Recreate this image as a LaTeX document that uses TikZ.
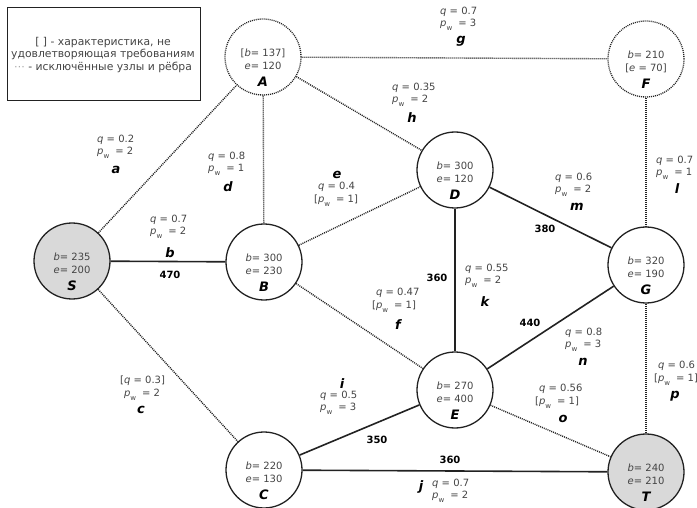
\documentclass[tikz,border=0pt]{standalone}
\usepackage{fontspec}
\setmainfont{DejaVu Sans}
\usetikzlibrary{calc}
\definecolor{txt}{HTML}{444444}
\definecolor{vfill}{HTML}{D9D9D9}
\definecolor{edgec}{HTML}{222222}
\newcommand{\pwx}{\textit{p}\raisebox{-4pt}{\fontsize{7}{7}\selectfont w}\hspace{6pt}}
\newcommand{\mkvert}[6]{%
  \node[#6] (#1) at (#2) {};
  \node[vtxt] (#1t1) at ($(#1)+(0,-4)$) {#3};
  \node[vtxt] (#1t2) at ($(#1)+(0,9)$) {#4};
  \node[vlet] (#1t3) at ($(#1)+(0,25)$) {#5};
}
\tikzset{
  vert/.style={circle, draw=edgec, line width=1.3pt, minimum size=76pt, inner sep=0pt},
  vdot/.style={vert, line width=1.3pt, dash pattern=on 1pt off 1pt},
  vgray/.style={vert, fill=vfill},
  vtxt/.style={font=\fontsize{10}{12}\selectfont, text=txt, inner sep=0pt},
  vlet/.style={font=\fontsize{13}{13}\selectfont\bfseries\itshape, inner sep=0pt},
  lab/.style={font=\fontsize{10}{12.5}\selectfont, text=txt, align=left, anchor=west, inner sep=0pt},
  elab/.style={font=\fontsize{13}{13}\selectfont\bfseries\itshape, inner sep=0pt},
  wt/.style={font=\fontsize{10}{10}\selectfont\bfseries, inner sep=0pt},
  sol/.style={draw=edgec, line width=1.6pt},
  dot/.style={draw=edgec, line width=1.4pt, dash pattern=on 1pt off 1pt},
}
\begin{document}
\begin{tikzpicture}[x=1pt,y=-1pt]
\useasboundingbox (0,0) rectangle (697,508);
% legend
\node[draw=edgec, line width=1.2pt, minimum width=193pt, minimum height=93pt, anchor=north west, inner sep=0pt] (legend) at (7,7) {};
\node[font=\fontsize{10.8}{12.5}\selectfont, text=txt, align=center, inner sep=0pt] (legtxt) at (103,55)
  {[ ] - характеристика, не\\удовлетворяющая требованиям\\{\color{gray!70}⋯} - исключённые узлы и рёбра};
% vertices
\mkvert{A}{263,57}{[\textit{b}= 137]}{\textit{e}= 120}{A}{vdot}
\mkvert{F}{646,59}{\textit{b}= 210}{[\textit{e} = 70]}{F}{vdot}
\mkvert{D}{455,170}{\textit{b}= 300}{\textit{e}= 120}{D}{vert}
\mkvert{S}{72,261}{\textit{b}= 235}{\textit{e}= 200}{S}{vgray}
\mkvert{B}{264,262}{\textit{b}= 300}{\textit{e}= 230}{B}{vert}
\mkvert{G}{646,265}{\textit{b}= 320}{\textit{e}= 190}{G}{vert}
\mkvert{E}{455,390}{\textit{b}= 270}{\textit{e}= 400}{E}{vert}
\mkvert{C}{264,470}{\textit{b}= 220}{\textit{e}= 130}{C}{vert}
\mkvert{T}{646,472}{\textit{b}= 240}{\textit{e}= 210}{T}{vgray}
% edges
\draw[dot] (S) -- (A);
\draw[sol] (S) -- (B);
\draw[dot] (S) -- (C);
\draw[dot] (A) -- (B);
\draw[dot] (B) -- (D);
\draw[dot] (B) -- (E);
\draw[dot] (A) -- (F);
\draw[dot] (A) -- (D);
\draw[sol] (C) -- (E);
\draw[sol] (C) -- (T);
\draw[sol] (D) -- (E);
\draw[dot] (F) -- (G);
\draw[sol] (D) -- (G);
\draw[sol] (E) -- (G);
\draw[dot] (E) -- (T);
\draw[dot] (G) -- (T);
% labels
\node[lab] (la) at (97,147) {\textit{q} = 0.2\\\pwx= 2};
\node[elab] (ea) at (116,170) {a};
\node[lab] (lb) at (150,227) {\textit{q} = 0.7\\\pwx= 2};
\node[elab] (eb) at (170,253) {b};
\node[wt] (wb) at (170,275) {470};
\node[lab] (lc) at (120,388) {[\textit{q} = 0.3]\\\phantom{[}\pwx= 2};
\node[elab] (ec) at (141,410) {c};
\node[lab] (ld) at (208,164) {\textit{q} = 0.8\\\pwx= 1};
\node[elab] (ed) at (228,187) {d};
\node[elab] (ee) at (337,175) {e};
\node[lab] (le) at (314,194) {\phantom{[}\textit{q} = 0.4\\{[}\pwx= 1]};
\node[lab] (lf) at (372,300) {\phantom{[}\textit{q} = 0.47\\{[}\pwx= 1]};
\node[elab] (ef) at (398,325) {f};
\node[lab] (lg) at (440,19) {\textit{q} = 0.7\\\pwx= 3};
\node[elab] (eg) at (461,41) {g};
\node[lab] (lh) at (392,95) {\textit{q} = 0.35\\\pwx= 2};
\node[elab] (eh) at (412,118) {h};
\node[elab] (ei) at (342,384) {i};
\node[lab] (li) at (320,403) {\textit{q} = 0.5\\\pwx= 3};
\node[wt] (wi) at (377,440) {350};
\node[wt] (wj) at (450,460) {360};
\node[elab] (ej) at (421,487) {j};
\node[lab] (lj) at (432,491) {\textit{q} = 0.7\\\pwx= 2};
\node[wt] (wk) at (437,278) {360};
\node[lab] (lk) at (465,276) {\textit{q} = 0.55\\\pwx= 2};
\node[elab] (ek) at (485,302) {k};
\node[lab] (ll) at (656,168) {\textit{q} = 0.7\\\pwx= 1};
\node[elab] (el) at (677,189) {l};
\node[lab] (lm) at (555,185) {\textit{q} = 0.6\\\pwx= 2};
\node[elab] (em) at (577,207) {m};
\node[wt] (wm) at (545,229) {380};
\node[wt] (wn) at (530,323) {440};
\node[lab] (ln) at (565,340) {\textit{q} = 0.8\\\pwx= 3};
\node[elab] (en) at (583,362) {n};
\node[lab] (lo) at (535,396) {\phantom{[}\textit{q} = 0.56\\{[}\pwx= 1]};
\node[elab] (eo) at (563,419) {o};
\node[lab] (lp) at (654,373) {\phantom{[}\textit{q} = 0.6\\{[}\pwx= 1]};
\node[elab] (ep) at (675,396) {p};
\end{tikzpicture}
\end{document}
